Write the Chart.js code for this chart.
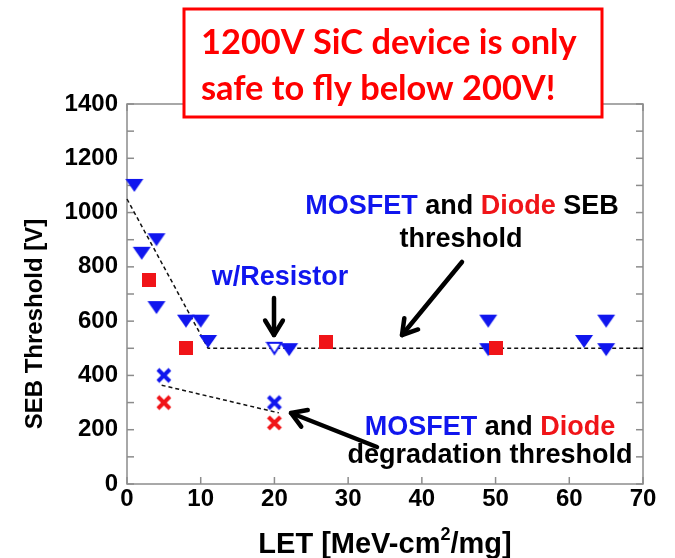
<!DOCTYPE html>
<html>
<head>
<meta charset="utf-8">
<script src="https://cdn.jsdelivr.net/npm/chart.js@4.4.0/dist/chart.umd.min.js"></script>
<style>
  html, body { margin: 0; padding: 0; background: #fff; }
  canvas { display: block; }
</style>
</head>
<body>
<canvas id="sebChart" width="675" height="558"></canvas>
<script>
// ===== Data =====
const mosfetSebX = [1, 2, 4, 4, 8, 10, 11, 22, 49, 49, 62, 65, 65];
const mosfetSebY = [1100, 850, 900, 650, 600, 600, 525, 495, 600, 495, 525, 600, 495];
const resistorX = [20];
const resistorY = [500];
const diodeSebX = [3, 8, 27, 50];
const diodeSebY = [750, 500, 525, 500];
const mosfetDegX = [5, 20];
const mosfetDegY = [400, 300];
const diodeDegX = [5, 20];
const diodeDegY = [300, 225];
const sebFitX = [0, 11, 70];
const sebFitY = [1050, 500, 500];
const degFitX = [4.7, 20.6];
const degFitY = [364, 262];

const xTickLabels = [0, 10, 20, 30, 40, 50, 60, 70];
const yTickLabels = [0, 200, 400, 600, 800, 1000, 1200, 1400];

const BLUE = '#1016ee';
const RED = '#f01418';
const FONT = '"Liberation Sans", Arial, sans-serif';

function toPoints(xs, ys) {
  return xs.map((x, i) => ({ x, y: ys[i] }));
}

// ===== Markers =====
function makeMarker(kind, color) {
  const c = document.createElement('canvas');
  const ctx = c.getContext('2d');
  if (kind === 'tri') {
    c.width = 20; c.height = 15;
    ctx.fillStyle = color;
    ctx.beginPath();
    ctx.moveTo(1, 1); ctx.lineTo(19, 1); ctx.lineTo(10, 14);
    ctx.closePath();
    ctx.fill();
  } else if (kind === 'openTri') {
    c.width = 18; c.height = 15;
    ctx.fillStyle = '#fff';
    ctx.strokeStyle = color;
    ctx.lineWidth = 2;
    ctx.beginPath();
    ctx.moveTo(2, 2); ctx.lineTo(16, 2); ctx.lineTo(9, 13);
    ctx.closePath();
    ctx.fill();
    ctx.stroke();
  } else if (kind === 'square') {
    c.width = 14; c.height = 14;
    ctx.fillStyle = color;
    ctx.fillRect(0, 0, 14, 14);
  } else {
    c.width = 18; c.height = 18;
    ctx.strokeStyle = color;
    ctx.lineWidth = 4;
    ctx.beginPath();
    ctx.moveTo(3, 3); ctx.lineTo(15, 15);
    ctx.moveTo(15, 3); ctx.lineTo(3, 15);
    ctx.stroke();
  }
  return c;
}

function scatterSet(xs, ys, marker, order) {
  return {
    type: 'scatter',
    data: toPoints(xs, ys),
    pointStyle: marker,
    pointRadius: 9,
    showLine: false,
    clip: false,
    order
  };
}

function fitSet(xs, ys) {
  return {
    type: 'line',
    data: toPoints(xs, ys),
    borderColor: '#111',
    borderWidth: 1.5,
    borderDash: [4, 3],
    pointRadius: 0,
    fill: false,
    clip: false,
    order: 10
  };
}

// ===== Drawing helpers =====
function strokeLine(ctx, x1, y1, x2, y2) {
  ctx.beginPath();
  ctx.moveTo(x1, y1);
  ctx.lineTo(x2, y2);
  ctx.stroke();
}

function drawArrow(ctx, x1, y1, x2, y2) {
  const ang = Math.atan2(y2 - y1, x2 - x1);
  const head = 17;
  ctx.save();
  ctx.strokeStyle = '#000';
  ctx.lineWidth = 4.5;
  ctx.lineCap = 'round';
  ctx.lineJoin = 'round';
  strokeLine(ctx, x1, y1, x2, y2);
  ctx.beginPath();
  ctx.moveTo(x2 - head * Math.cos(ang - 0.55), y2 - head * Math.sin(ang - 0.55));
  ctx.lineTo(x2, y2);
  ctx.lineTo(x2 - head * Math.cos(ang + 0.55), y2 - head * Math.sin(ang + 0.55));
  ctx.stroke();
  ctx.restore();
}

// parts: [text, color, font, raise]
function drawRichLine(ctx, parts, cx, baseline) {
  let total = 0;
  parts.forEach(p => { ctx.font = p[2]; total += ctx.measureText(p[0]).width; });
  let x = cx - total / 2;
  ctx.textAlign = 'left';
  ctx.textBaseline = 'alphabetic';
  parts.forEach(p => {
    ctx.font = p[2];
    ctx.fillStyle = p[1];
    ctx.fillText(p[0], x, baseline - (p[3] || 0));
    x += ctx.measureText(p[0]).width;
  });
}

const decorations = {
  id: 'decorations',
  beforeDatasetsDraw(chart) {
    const { ctx, chartArea: a, scales } = chart;
    ctx.save();
    ctx.strokeStyle = '#8c8c8c';
    ctx.lineWidth = 1.5;
    ctx.strokeRect(a.left, a.top, a.right - a.left, a.bottom - a.top);
    scales.y.ticks.forEach(t => {
      const py = scales.y.getPixelForValue(t.value);
      strokeLine(ctx, a.left, py, a.left + 7, py);
      strokeLine(ctx, a.right - 7, py, a.right, py);
    });
    scales.x.ticks.forEach(t => {
      const px = scales.x.getPixelForValue(t.value);
      strokeLine(ctx, px, a.bottom, px, a.bottom - 7);
      strokeLine(ctx, px, a.top, px, a.top + 7);
    });
    ctx.restore();
  },
  afterDraw(chart) {
    const ctx = chart.ctx;
    const bold = s => 'bold ' + s + 'px ' + FONT;
    ctx.save();

    // annotations
    drawRichLine(ctx, [['MOSFET', BLUE, bold(27)], [' and ', '#000', bold(27)],
      ['Diode', RED, bold(27)], [' SEB', '#000', bold(27)]], 462, 214);
    drawRichLine(ctx, [['threshold', '#000', bold(27)]], 461, 247);
    drawRichLine(ctx, [['w/Resistor', BLUE, bold(27)]], 280, 285);
    drawRichLine(ctx, [['MOSFET', BLUE, bold(27)], [' and ', '#000', bold(27)],
      ['Diode', RED, bold(27)]], 490, 435);
    drawRichLine(ctx, [['degradation threshold', '#000', bold(27)]], 490, 463);

    drawArrow(ctx, 274, 298, 274, 335);
    drawArrow(ctx, 462, 262, 402, 335);
    drawArrow(ctx, 377, 447, 291, 413);

    // axis titles
    drawRichLine(ctx, [['LET [MeV-cm', '#000', bold(29)], ['2', '#000', bold(18), 13],
      ['/mg]', '#000', bold(29)]], 385, 553);
    ctx.save();
    ctx.translate(42, 324);
    ctx.rotate(-Math.PI / 2);
    drawRichLine(ctx, [['SEB Threshold [V]', '#000', bold(24)]], 0, 0);
    ctx.restore();

    // red callout box
    ctx.fillStyle = '#fff';
    ctx.fillRect(184, 9, 418, 108);
    ctx.strokeStyle = '#ff0000';
    ctx.lineWidth = 3;
    ctx.strokeRect(184, 9, 418, 108);
    const line1 = '1200V SiC device is only';
    const line2 = 'safe to fly below 200V!';
    ctx.font = 'bold 30px Lato, "Open Sans", sans-serif';
    const size = 30 * 376 / ctx.measureText(line1).width;
    ctx.font = 'bold ' + size.toFixed(1) + 'px Lato, "Open Sans", sans-serif';
    ctx.fillStyle = '#ff0000';
    ctx.textAlign = 'left';
    ctx.fillText(line1, 201, 54);
    ctx.fillText(line2, 201, 100);

    ctx.restore();
  }
};

// ===== Chart =====
new Chart(document.getElementById('sebChart'), {
  data: {
    datasets: [
      scatterSet(diodeSebX, diodeSebY, makeMarker('square', RED), 1),
      scatterSet(mosfetSebX, mosfetSebY, makeMarker('tri', BLUE), 2),
      scatterSet(resistorX, resistorY, makeMarker('openTri', BLUE), 2),
      scatterSet(mosfetDegX, mosfetDegY, makeMarker('x', BLUE), 2),
      scatterSet(diodeDegX, diodeDegY, makeMarker('x', RED), 2),
      fitSet(sebFitX, sebFitY),
      fitSet(degFitX, degFitY)
    ]
  },
  options: {
    responsive: false,
    devicePixelRatio: 1,
    animation: false,
    layout: { padding: { top: 104, right: 32, left: 0, bottom: 0 } },
    plugins: { legend: { display: false }, tooltip: { enabled: false } },
    scales: {
      x: {
        type: 'linear',
        min: 0,
        max: 70,
        afterFit: s => { s.height = 74; },
        grid: { display: false, drawTicks: false },
        border: { display: false },
        ticks: {
          stepSize: 10,
          padding: 1,
          color: '#000',
          font: { family: FONT, size: 24, weight: 'bold' },
          callback: v => xTickLabels.includes(v) ? String(v) : ''
        }
      },
      y: {
        type: 'linear',
        min: 0,
        max: 1400,
        afterFit: s => { s.width = 127; },
        grid: { display: false, drawTicks: false },
        border: { display: false },
        ticks: {
          stepSize: 100,
          padding: 9,
          autoSkip: false,
          color: '#000',
          font: { family: FONT, size: 24, weight: 'bold' },
          callback: v => yTickLabels.includes(v) ? String(v) : ''
        }
      }
    }
  },
  plugins: [decorations]
});
</script>
</body>
</html>
